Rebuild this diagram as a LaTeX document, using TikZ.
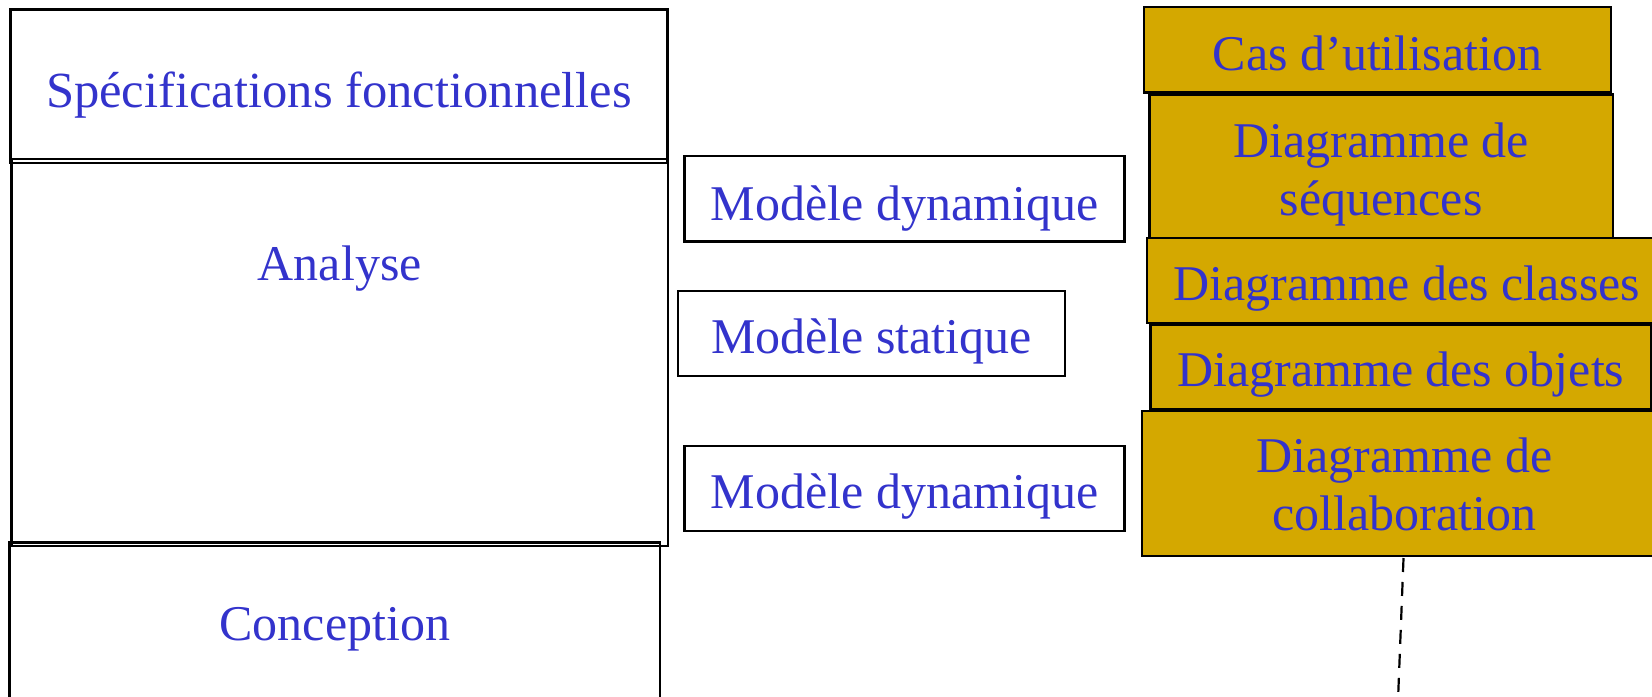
\documentclass[tikz,border=0pt]{standalone}
\usepackage{fontspec}
\setmainfont{Liberation Serif}
\definecolor{txtblue}{RGB}{51,51,204}
\definecolor{gold}{RGB}{212,168,0}
\begin{document}
\begin{tikzpicture}[x=0.5pt,y=-0.5pt,
  frame/.style={draw=black, line width=1.2pt, inner sep=0pt, outer sep=0pt,
                anchor=north west},
  sz/.style 2 args={minimum width=#1*0.5pt, minimum height=#2*0.5pt},
  golden/.style={frame, fill=gold},
  lbl/.style={anchor=base, inner sep=0pt, text=txtblue, align=center,
              font=\fontsize{25pt}{29pt}\selectfont},
  biglbl/.style={lbl, font=\fontsize{25.3pt}{29pt}\selectfont}]
\useasboundingbox (0,0) rectangle (1652,696);
\clip (0,0) rectangle (1652,696);

% left column: phases
\node[frame, sz={657}{153.5}] (spec) at (10.5,9.5) {};
\node[frame, sz={656.5}{387}] (analyse) at (11.5,159) {};
\node[frame, sz={650.5}{200}] (concept) at (9.5,542.5) {};
\node[biglbl] (tspec) at (spec.center |- 0,107) {Spécifications fonctionnelles};
\node[lbl] (tanalyse) at (analyse.center |- 0,280) {Analyse};
\node[lbl] (tconcept) at (concept.center |- 0,640) {Conception};

% middle column: models
\node[frame, sz={440}{85.5}] (mdyn1) at (684.5,156) {};
\node[frame, sz={387}{85}] (mstat) at (678,291) {};
\node[frame, sz={440}{85}] (mdyn2) at (684.5,446) {};
\node[lbl] (tmdyn1) at (mdyn1.center |- 0,220) {Modèle dynamique};
\node[lbl] (tmstat) at (mstat.center |- 0,353) {Modèle statique};
\node[lbl] (tmdyn2) at (mdyn2.center |- 0,508) {Modèle dynamique};

% right column: UML diagrams (two-line labels sit on their last baseline)
\node[golden, sz={467}{85.5}] (cas) at (1144,7) {};
\node[golden, sz={463.5}{145.5}] (seq) at (1149.5,94.5) {};
\node[golden, sz={520}{85}] (classes) at (1147,238) {};
\node[golden, sz={500.5}{84.5}] (objets) at (1150.5,325) {};
\node[golden, sz={525}{145}] (collab) at (1142,411) {};
\node[lbl] (tcas) at (cas.center |- 0,70) {Cas d’utilisation};
\node[lbl] (tseq) at (seq.center |- 0,215) {Diagramme de\\séquences};
\node[lbl] (tclasses) at (classes.center |- 0,300) {Diagramme des classes};
\node[lbl] (tobjets) at (objets.center |- 0,386.5) {Diagramme des objets};
\node[lbl] (tcollab) at (collab.center |- 0,530) {Diagramme de\\collaboration};

% dashed lifeline below the collaboration diagram
\coordinate (lifeend) at (1398,700);
\draw[dashed, line width=1.1pt, dash pattern=on 7pt off 5pt]
  ([xshift=-0.5pt]collab.south) ++(0,2) -- (lifeend);
\end{tikzpicture}
\end{document}
